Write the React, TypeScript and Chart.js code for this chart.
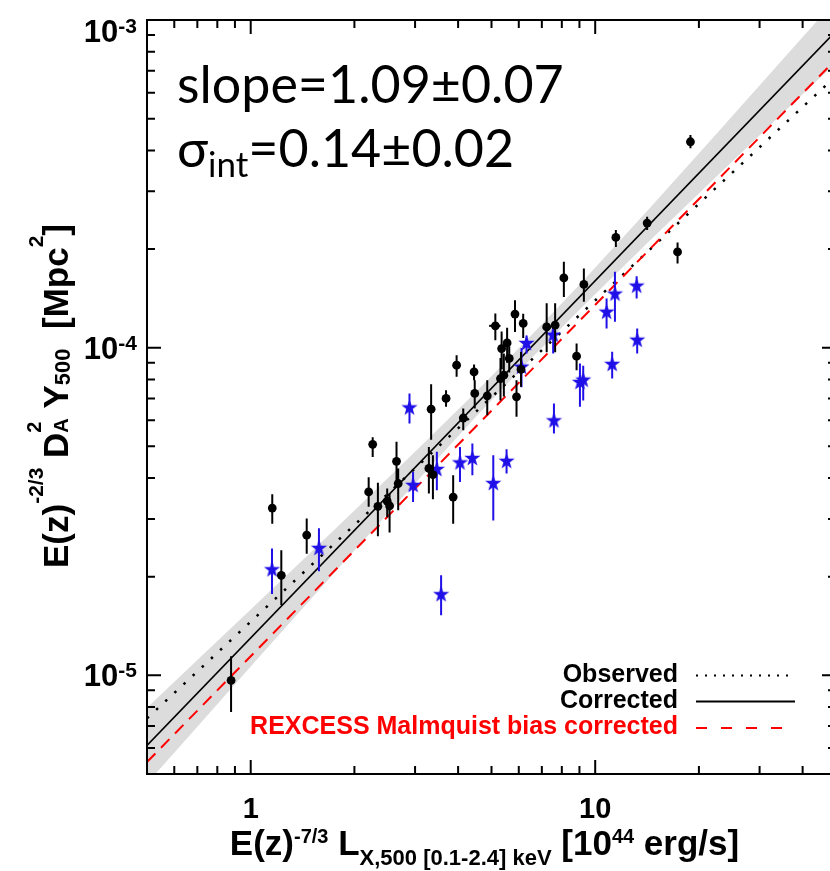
import React, { useEffect, useRef } from "react";
import { Chart, registerables } from "chart.js";

Chart.register(...registerables);

// ---------- axis ranges & ticks ----------
const X_MIN = 0.5;
const X_MAX = 50;
const Y_MIN = 5e-6;
const Y_MAX = 1e-3;

const xMajorTicks = [1, 10];
const xMajorLabels = ["1", "10"];
const xMinorTicks = [0.6, 0.7, 0.8, 0.9, 2, 3, 4, 5, 6, 7, 8, 9, 20, 30, 40];
const yMajorTicks = [1e-5, 1e-4, 1e-3];
const yMajorExponents = ["-5", "-4", "-3"];
const yMinorTicks = [
  6e-6, 7e-6, 8e-6, 9e-6,
  2e-5, 3e-5, 4e-5, 5e-5, 6e-5, 7e-5, 8e-5, 9e-5,
  2e-4, 3e-4, 4e-4, 5e-4, 6e-4, 7e-4, 8e-4, 9e-4,
];

// ---------- black circles (with vertical error bars) ----------
const blackX = [0.877, 1.155, 1.227, 1.454, 2.26, 2.2, 2.34, 2.49, 2.53, 2.65, 2.68, 3.34, 3.29, 3.38, 3.69, 4.14, 3.87, 3.96, 4.45, 4.47, 4.86, 5.13, 5.35, 5.55, 5.63, 5.31, 5.43, 6.09, 5.91, 5.85, 6.18, 7.23, 7.65, 8.83, 8.11, 9.27, 11.48, 14.15, 17.34, 18.9];
const blackY = [9.65e-6, 3.24e-5, 2.02e-5, 2.68e-5, 5.07e-5, 3.63e-5, 3.28e-5, 3.4e-5, 3.29e-5, 4.5e-5, 3.85e-5, 6.49e-5, 4.28e-5, 4.1e-5, 7.0e-5, 6.1e-5, 3.5e-5, 8.84e-5, 8.43e-5, 7.25e-5, 7.13e-5, 1.166e-4, 9.94e-5, 1.034e-4, 9.27e-5, 8.05e-5, 8.24e-5, 8.58e-5, 7.08e-5, 1.266e-4, 1.186e-4, 1.157e-4, 1.171e-4, 9.42e-5, 1.633e-4, 1.56e-4, 2.17e-4, 2.4e-4, 1.96e-4, 4.25e-4];
const blackYLo = [7.73e-6, 2.9e-5, 1.64e-5, 2.35e-5, 4.64e-5, 3.27e-5, 2.66e-5, 3.04e-5, 2.73e-5, 3.85e-5, 3.19e-5, 5.24e-5, 3.59e-5, 3.45e-5, 6.6e-5, 5.6e-5, 2.9e-5, 8.15e-5, 7.96e-5, 6.52e-5, 6.22e-5, 1.054e-4, 8.6e-5, 9.0e-5, 8.4e-5, 6.9e-5, 7.1e-5, 7.6e-5, 6.15e-5, 1.117e-4, 1.07e-4, 9.69e-5, 9.69e-5, 8.53e-5, 1.429e-4, 1.38e-4, 2.03e-4, 2.285e-4, 1.808e-4, 4.06e-4];
const blackYHi = [1.143e-5, 3.57e-5, 2.41e-5, 3.01e-5, 5.33e-5, 4.02e-5, 3.87e-5, 3.72e-5, 3.59e-5, 5.16e-5, 4.28e-5, 7.74e-5, 4.98e-5, 4.7e-5, 7.42e-5, 6.52e-5, 4.08e-5, 9.49e-5, 8.89e-5, 7.96e-5, 7.96e-5, 1.272e-4, 1.12e-4, 1.15e-4, 1.01e-4, 9.3e-5, 9.6e-5, 9.7e-5, 7.96e-5, 1.396e-4, 1.27e-4, 1.367e-4, 1.367e-4, 1.03e-4, 1.828e-4, 1.745e-4, 2.285e-4, 2.51e-4, 2.095e-4, 4.46e-4];
// one black point also carries a horizontal error bar
const crossY = [1.166e-4];
const crossXLo = [4.92];
const crossXHi = [5.31];

// ---------- blue stars (with vertical error bars) ----------
const blueX = [1.153, 1.578, 2.96, 2.89, 3.47, 4.05, 4.4, 5.06, 5.53, 3.57, 6.32, 6.11, 7.55, 7.59, 9.03, 9.23, 10.79, 11.41, 11.2, 13.19, 13.24];
const blueY = [2.1e-5, 2.44e-5, 3.8e-5, 6.55e-5, 4.25e-5, 4.45e-5, 4.59e-5, 3.85e-5, 4.5e-5, 1.763e-5, 1.03e-4, 8.72e-5, 1.092e-4, 5.98e-5, 7.83e-5, 7.96e-5, 1.283e-4, 1.457e-4, 8.89e-5, 1.541e-4, 1.054e-4];
const blueYLo = [1.77e-5, 2.08e-5, 3.38e-5, 5.87e-5, 3.67e-5, 3.89e-5, 4.08e-5, 2.97e-5, 4.13e-5, 1.525e-5, 9.6e-5, 7.57e-5, 9.6e-5, 5.47e-5, 6.6e-5, 6.9e-5, 1.144e-4, 1.199e-4, 8.05e-5, 1.413e-4, 9.6e-5];
const blueYHi = [2.44e-5, 2.81e-5, 4.18e-5, 7.25e-5, 4.81e-5, 4.98e-5, 5.1e-5, 4.7e-5, 4.9e-5, 2.02e-5, 1.09e-4, 9.97e-5, 1.199e-4, 6.75e-5, 8.95e-5, 8.8e-5, 1.413e-4, 1.704e-4, 9.71e-5, 1.653e-4, 1.144e-4];

// ---------- fitted relations ----------
const fitX = [0.5, 50];
const observedY = [7.39e-6, 6.75e-4];
const correctedY = [6.11e-6, 9.25e-4];
const rexcessY = [5.44e-6, 7.59e-4];

// ---------- grey uncertainty band of the corrected fit ----------
const bandX = [0.5, 0.7, 1, 1.5, 2, 3, 4.5, 6.3, 9, 14, 22, 35, 50];
const bandUpper = [7.97e-6, 1.114e-5, 1.589e-5, 2.385e-5, 3.184e-5, 4.81e-5, 7.31e-5, 1.05e-4, 1.556e-4, 2.582e-4, 4.38e-4, 7.57e-4, 1.154e-3];
const bandLower = [4.68e-6, 6.97e-6, 1.064e-5, 1.716e-5, 2.404e-5, 3.855e-5, 6.14e-5, 8.93e-5, 1.306e-4, 2.061e-4, 3.255e-4, 5.19e-4, 7.41e-4];

// ---------- texts ----------
const slopeText = "slope=1.09±0.07";
const sigmaMain = "σ";
const sigmaSub = "int";
const sigmaRest = "=0.14±0.02";
const legendLabels = ["Observed", "Corrected", "REXCESS Malmquist bias corrected"];

const BLUE = "#2010e8";
const RED = "#ff0000";
const GREY = "#dcdcdc";
const SANS = '"Liberation Sans", Arial, Helvetica, sans-serif';
const ANNOT = 'Lato, "Open Sans", "Noto Sans", sans-serif';

type Run = { t: string; size: number; dy?: number; noAdvance?: boolean };

function measureRuns(ctx: CanvasRenderingContext2D, runs: Run[], family: string, bold: boolean) {
  let w = 0;
  let pending = 0;
  for (const r of runs) {
    ctx.font = `${bold ? "bold " : ""}${r.size}px ${family}`;
    const rw = ctx.measureText(r.t).width;
    if (r.noAdvance) {
      pending = rw;
      continue;
    }
    w += Math.max(rw, pending);
    pending = 0;
  }
  return w;
}

function drawRuns(
  ctx: CanvasRenderingContext2D,
  runs: Run[],
  x: number,
  y: number,
  align: "left" | "center" | "right",
  family: string,
  bold: boolean
) {
  const total = measureRuns(ctx, runs, family, bold);
  let cx = align === "left" ? x : align === "center" ? x - total / 2 : x - total;
  let pending = 0;
  ctx.textAlign = "left";
  ctx.textBaseline = "alphabetic";
  for (const r of runs) {
    ctx.font = `${bold ? "bold " : ""}${r.size}px ${family}`;
    const rw = ctx.measureText(r.t).width;
    ctx.fillText(r.t, cx, y + (r.dy || 0));
    if (r.noAdvance) {
      pending = rw;
      continue;
    }
    cx += Math.max(rw, pending);
    pending = 0;
  }
}

function makeStar(color: string, R: number, r: number) {
  const size = Math.ceil(2 * R + 2);
  const c = document.createElement("canvas");
  c.width = size;
  c.height = size;
  const g = c.getContext("2d")!;
  g.fillStyle = color;
  g.beginPath();
  for (let i = 0; i < 10; i++) {
    const rad = i % 2 === 0 ? R : r;
    const a = -Math.PI / 2 + (i * Math.PI) / 5;
    const px = size / 2 + rad * Math.cos(a);
    const py = size / 2 + rad * Math.sin(a);
    if (i === 0) g.moveTo(px, py);
    else g.lineTo(px, py);
  }
  g.closePath();
  g.fill();
  return c;
}

function verticalBars(xs: number[], lo: number[], hi: number[]) {
  const out: { x: number; y: number | null }[] = [];
  xs.forEach((x, i) => {
    out.push({ x, y: lo[i] }, { x, y: hi[i] }, { x, y: null });
  });
  return out;
}

function horizontalBars(ys: number[], lo: number[], hi: number[]) {
  const out: { x: number; y: number | null }[] = [];
  ys.forEach((y, i) => {
    out.push({ x: lo[i], y }, { x: hi[i], y }, { x: hi[i], y: null });
  });
  return out;
}

const decorPlugin = {
  id: "decor",
  afterDatasetsDraw(chart: any) {
    const { ctx, chartArea: a, scales } = chart;
    const xs = scales.x;
    const ys = scales.y;
    ctx.save();

    // frame
    ctx.strokeStyle = "#000";
    ctx.lineWidth = 2;
    ctx.setLineDash([]);
    ctx.strokeRect(a.left, a.top, a.right - a.left, a.bottom - a.top);

    // inward ticks on all four sides
    ctx.beginPath();
    const xTick = (v: number, len: number) => {
      const p = xs.getPixelForValue(v);
      ctx.moveTo(p, a.bottom);
      ctx.lineTo(p, a.bottom - len);
      ctx.moveTo(p, a.top);
      ctx.lineTo(p, a.top + len);
    };
    const yTick = (v: number, len: number) => {
      const p = ys.getPixelForValue(v);
      ctx.moveTo(a.left, p);
      ctx.lineTo(a.left + len, p);
      ctx.moveTo(a.right, p);
      ctx.lineTo(a.right - len, p);
    };
    xMajorTicks.forEach((v) => xTick(v, 14));
    xMinorTicks.forEach((v) => xTick(v, 8));
    yMajorTicks.forEach((v) => yTick(v, 14));
    yMinorTicks.forEach((v) => yTick(v, 8));
    ctx.stroke();

    ctx.fillStyle = "#000";
    // x tick labels
    xMajorTicks.forEach((v, i) => {
      const p = xs.getPixelForValue(v);
      drawRuns(ctx, [{ t: xMajorLabels[i], size: 29 }], p, a.bottom + 44, "center", SANS, true);
    });
    // y tick labels: 10 with raised exponent
    yMajorTicks.forEach((v, i) => {
      const p = ys.getPixelForValue(v);
      const base = Math.max(p + 11, 42);
      drawRuns(
        ctx,
        [
          { t: "10", size: 31 },
          { t: yMajorExponents[i], size: 21, dy: -9 },
        ],
        a.left - 10,
        base,
        "right",
        SANS,
        true
      );
    });

    // x axis title
    drawRuns(
      ctx,
      [
        { t: "E(z)", size: 35 },
        { t: "-7/3", size: 20, dy: -12 },
        { t: " L", size: 35 },
        { t: "X,500 [0.1-2.4] keV", size: 22, dy: 10 },
        { t: " [10", size: 35 },
        { t: "44", size: 20, dy: -12 },
        { t: " erg/s]", size: 35 },
      ],
      (a.left + 830) / 2 - 4,
      855,
      "center",
      SANS,
      true
    );

    // y axis title (rotated)
    ctx.save();
    ctx.translate(68, 396);
    ctx.rotate(-Math.PI / 2);
    drawRuns(
      ctx,
      [
        { t: "E(z)", size: 35 },
        { t: "-2/3", size: 21, dy: -25 },
        { t: " D", size: 35 },
        { t: "2", size: 20, dy: -27, noAdvance: true },
        { t: "A", size: 20 },
        { t: " Y", size: 35 },
        { t: "500", size: 22, dy: 2 },
        { t: "  [Mpc", size: 35 },
        { t: "2", size: 21, dy: -25 },
        { t: "]", size: 35 },
      ],
      0,
      0,
      "center",
      SANS,
      true
    );
    ctx.restore();

    // annotation
    ctx.fillStyle = "#000";
    drawRuns(ctx, [{ t: slopeText, size: 52 }], 177, 103, "left", ANNOT, false);
    drawRuns(
      ctx,
      [
        { t: sigmaMain, size: 52 },
        { t: sigmaSub, size: 35, dy: 10 },
        { t: sigmaRest, size: 52 },
      ],
      177,
      167,
      "left",
      ANNOT,
      false
    );

    // legend
    const lx = 678;
    const l0 = 696;
    const l1 = 795;
    const rows = [682, 708, 734];
    ctx.fillStyle = "#000";
    drawRuns(ctx, [{ t: legendLabels[0], size: 25 }], lx, rows[0], "right", SANS, true);
    drawRuns(ctx, [{ t: legendLabels[1], size: 25 }], lx, rows[1], "right", SANS, true);
    ctx.fillStyle = RED;
    drawRuns(ctx, [{ t: legendLabels[2], size: 25 }], lx, rows[2], "right", SANS, true);

    ctx.lineWidth = 2;
    ctx.strokeStyle = "#000";
    ctx.setLineDash([2, 7]);
    ctx.beginPath();
    ctx.moveTo(l0, rows[0] - 6.5);
    ctx.lineTo(l1, rows[0] - 6.5);
    ctx.stroke();
    ctx.setLineDash([]);
    ctx.beginPath();
    ctx.moveTo(l0, rows[1] - 6.5);
    ctx.lineTo(l1, rows[1] - 6.5);
    ctx.stroke();
    ctx.strokeStyle = RED;
    ctx.setLineDash([11, 14]);
    ctx.beginPath();
    ctx.moveTo(l0, rows[2] - 6);
    ctx.lineTo(l1 - 8, rows[2] - 6);
    ctx.stroke();

    ctx.restore();
  },
};

export default function App() {
  const ref = useRef<HTMLCanvasElement | null>(null);

  useEffect(() => {
    if (!ref.current) return;
    const star = makeStar(BLUE, 8.5, 3.4);
    const pts = (xs: number[], ys: number[]) => xs.map((x, i) => ({ x, y: ys[i] }));

    const chart = new Chart(ref.current, {
      type: "scatter",
      data: {
        datasets: [
          {
            label: "band upper",
            data: pts(bandX, bandUpper),
            showLine: true,
            borderWidth: 0,
            borderColor: "rgba(0,0,0,0)",
            backgroundColor: GREY,
            pointRadius: 0,
            fill: "+1",
            order: 20,
            clip: 0,
          } as any,
          {
            label: "band lower",
            data: pts(bandX, bandLower),
            showLine: true,
            borderWidth: 0,
            borderColor: "rgba(0,0,0,0)",
            pointRadius: 0,
            fill: false,
            order: 19,
            clip: 0,
          } as any,
          {
            label: legendLabels[0],
            data: pts(fitX, observedY),
            showLine: true,
            borderColor: "#000",
            borderWidth: 2.5,
            borderDash: [2.5, 10],
            pointRadius: 0,
            order: 15,
            clip: 0,
          } as any,
          {
            label: legendLabels[2],
            data: pts(fitX, rexcessY),
            showLine: true,
            borderColor: RED,
            borderWidth: 2,
            borderDash: [12, 8],
            pointRadius: 0,
            order: 14,
            clip: 0,
          } as any,
          {
            label: legendLabels[1],
            data: pts(fitX, correctedY),
            showLine: true,
            borderColor: "#000",
            borderWidth: 1.6,
            pointRadius: 0,
            order: 13,
            clip: 0,
          } as any,
          {
            label: "blue error bars",
            data: verticalBars(blueX, blueYLo, blueYHi),
            showLine: true,
            spanGaps: false,
            borderColor: BLUE,
            borderWidth: 2,
            pointRadius: 0,
            order: 10,
          } as any,
          {
            label: "blue stars",
            data: pts(blueX, blueY),
            pointStyle: star,
            pointRadius: 8,
            order: 9,
          } as any,
          {
            label: "black error bars",
            data: verticalBars(blackX, blackYLo, blackYHi),
            showLine: true,
            spanGaps: false,
            borderColor: "#000",
            borderWidth: 2,
            pointRadius: 0,
            order: 8,
          } as any,
          {
            label: "black x error bars",
            data: horizontalBars(crossY, crossXLo, crossXHi),
            showLine: true,
            spanGaps: false,
            borderColor: "#000",
            borderWidth: 2,
            pointRadius: 0,
            order: 7,
          } as any,
          {
            label: "black circles",
            data: pts(blackX, blackY),
            pointStyle: "circle",
            pointRadius: 4.4,
            pointBackgroundColor: "#000",
            pointBorderWidth: 0,
            borderWidth: 0,
            order: 6,
          } as any,
        ],
      },
      options: {
        responsive: false,
        animation: false,
        events: [],
        layout: { padding: { left: 147, top: 20, right: 14, bottom: 97 } },
        plugins: {
          legend: { display: false },
          tooltip: { enabled: false },
          filler: { propagate: false },
        },
        scales: {
          x: {
            type: "logarithmic",
            min: X_MIN,
            max: X_MAX,
            bounds: "data",
            display: false,
          },
          y: {
            type: "logarithmic",
            min: Y_MIN,
            max: Y_MAX,
            bounds: "data",
            display: false,
          },
        },
      } as any,
      plugins: [decorPlugin],
    });
    return () => chart.destroy();
  }, []);

  return (
    <div
      style={{
        position: "fixed",
        left: 0,
        top: 0,
        width: 830,
        height: 871,
        overflow: "hidden",
        background: "#fff",
      }}
    >
      <canvas ref={ref} width={850} height={871} style={{ display: "block" }} />
    </div>
  );
}
